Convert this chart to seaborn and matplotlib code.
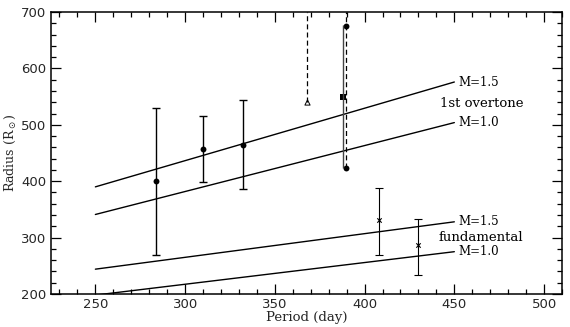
import matplotlib
matplotlib.use("Agg")
import matplotlib.pyplot as plt
import seaborn as sns
import pandas as pd
import numpy as np
from matplotlib.ticker import MultipleLocator

# ---- data ----
# model lines (period, radius) endpoints
line_period = [250, 450]
ot_m15 = [390, 576]
ot_m10 = [341, 504]
fu_m15 = [244, 328]
fu_m10 = [198, 275]

# first overtone stars (filled circles) with error bars
ot_period = [284, 310, 332]
ot_radius = [400, 457, 465]
ot_low = [269, 399, 386]
ot_high = [530, 516, 544]

# star near 388 d: square with solid error bar
sq_period = [388]
sq_radius = [549]
sq_low = [423]
sq_high = [677]

# dashed range near 389 d with two dots
dash_period = [389.5, 389.5]
dash_radius = [675, 423]
dash_low = [423]
dash_high = [700]

# lower limit (open triangle) at 368 d
tri_period = [368]
tri_radius = [540]
tri_high = [700]

# fundamental stars (x markers)
fu_period = [408, 430]
fu_radius = [331, 287]
fu_low = [270, 234]
fu_high = [388, 333]

sns.set_style("ticks")
plt.rcParams['font.family'] = ['DejaVu Sans']

fig = plt.figure(figsize=(5.7, 3.27), dpi=100)
ax = fig.add_axes([0.0886, 0.101, 0.8974, 0.862])

lines_df = pd.DataFrame({
    "period": line_period * 4,
    "radius": ot_m15 + ot_m10 + fu_m15 + fu_m10,
    "model": ["ot15"] * 2 + ["ot10"] * 2 + ["fu15"] * 2 + ["fu10"] * 2,
})
sns.lineplot(data=lines_df, x="period", y="radius", units="model", estimator=None,
             color="black", lw=1.0, ax=ax)

# error bars
ax.errorbar(ot_period, ot_radius,
            yerr=[np.array(ot_radius) - np.array(ot_low), np.array(ot_high) - np.array(ot_radius)],
            fmt="none", ecolor="black", elinewidth=1.0, capsize=3, capthick=1.0)
ax.errorbar(fu_period, fu_radius,
            yerr=[np.array(fu_radius) - np.array(fu_low), np.array(fu_high) - np.array(fu_radius)],
            fmt="none", ecolor="black", elinewidth=0.8, capsize=3, capthick=0.8)
ax.errorbar(sq_period, sq_radius,
            yerr=[np.array(sq_radius) - np.array(sq_low), np.array(sq_high) - np.array(sq_radius)],
            fmt="none", ecolor="#444444", elinewidth=1.0, capsize=0)
ax.vlines(dash_period[:1], dash_low, dash_high, colors="black", linestyles=(0, (4, 2.5)), lw=0.9)
ax.vlines(tri_period, tri_radius, tri_high, colors="black", linestyles=(0, (4, 2.5)), lw=0.9)

# markers
sns.scatterplot(x=ot_period, y=ot_radius, marker="o", color="black", s=18, linewidth=0, ax=ax)
sns.scatterplot(x=dash_period, y=dash_radius, marker="o", color="black", s=18, linewidth=0, ax=ax)
sns.scatterplot(x=sq_period, y=sq_radius, marker="s", color="black", s=16, linewidth=0, ax=ax)
sns.scatterplot(x=fu_period, y=fu_radius, marker="x", color="black", s=10, linewidth=0.8, ax=ax)
sns.scatterplot(x=tri_period, y=tri_radius, marker="^", facecolor="white", edgecolor="black",
                s=14, linewidth=0.7, ax=ax)

# labels on lines
mfont = dict(family="DejaVu Serif", fontsize=8.5, color="black")
nfont = dict(family="DejaVu Serif", fontsize=9.5, color="black")
ax.text(452, ot_m15[1], "M=1.5", va="center", ha="left", **mfont)
ax.text(465, 537, "1st overtone", va="center", ha="center", **nfont)
ax.text(452, ot_m10[1], "M=1.0", va="center", ha="left", **mfont)
ax.text(452, fu_m15[1], "M=1.5", va="center", ha="left", **mfont)
ax.text(465, 301, "fundamental", va="center", ha="center", **nfont)
ax.text(452, fu_m10[1], "M=1.0", va="center", ha="left", **mfont)

ax.set_xlim(225, 510)
ax.set_ylim(200, 700)
ax.xaxis.set_major_locator(MultipleLocator(50))
ax.xaxis.set_minor_locator(MultipleLocator(10))
ax.yaxis.set_major_locator(MultipleLocator(100))
ax.yaxis.set_minor_locator(MultipleLocator(20))
ax.tick_params(which="both", direction="in", top=True, right=True, color="black", width=0.9)
ax.tick_params(which="major", length=7, labelsize=9.5, pad=3)
ax.tick_params(which="minor", length=3.5)
for s in ax.spines.values():
    s.set_linewidth(1.1)
    s.set_color("black")

ax.set_xlabel("Period (day)", family="DejaVu Serif", fontsize=9.5, labelpad=0)
ax.set_ylabel(r"Radius (R$_\odot$)", family="DejaVu Serif", fontsize=9, labelpad=2)

fig.savefig("out.png", dpi=100)
